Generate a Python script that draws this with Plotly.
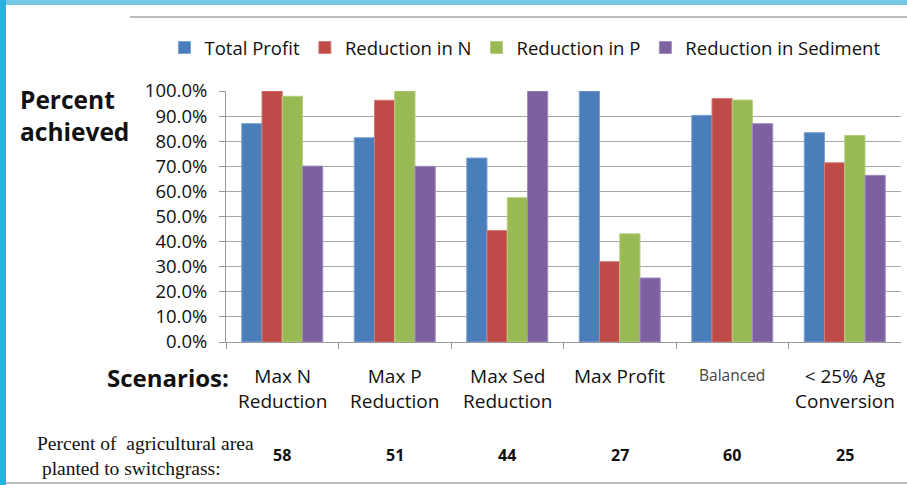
import plotly.graph_objects as go

W, H = 907, 485

categories = ["Max N<br>Reduction", "Max P<br>Reduction", "Max Sed<br>Reduction",
              "Max Profit", "Balanced", "< 25% Ag<br>Conversion"]
series_names = ["Total Profit", "Reduction in N", "Reduction in P", "Reduction in Sediment"]
total_profit = [0.870, 0.814, 0.733, 1.000, 0.903, 0.834]
reduction_n = [1.000, 0.963, 0.444, 0.320, 0.970, 0.714]
reduction_p = [0.979, 1.000, 0.575, 0.431, 0.964, 0.823]
reduction_sed = [0.701, 0.700, 1.000, 0.255, 0.870, 0.664]
switchgrass_pct = ["58", "51", "44", "27", "60", "25"]
y_ticks = [0.0, 0.1, 0.2, 0.3, 0.4, 0.5, 0.6, 0.7, 0.8, 0.9, 1.0]

colors = ["#4a7ebb", "#be4b48", "#98b954", "#7d60a0"]
edge_colors = ["#7ba2d2", "#d27c79", "#b5d07f", "#a28cbf"]
values = [total_profit, reduction_n, reduction_p, reduction_sed]

def px(x):
    return x / W

def py(y):
    return 1 - y / H

fig = go.Figure()
for name, vals, c, ec in zip(series_names, values, colors, edge_colors):
    fig.add_trace(go.Bar(x=categories, y=vals, name=name, marker_color=c,
                         marker_line=dict(color=ec, width=1)))

FONT = "'Open Sans', Lato, sans-serif"

fig.update_layout(
    width=W, height=H,
    margin=dict(l=0, r=0, t=0, b=0, autoexpand=False),
    paper_bgcolor="white", plot_bgcolor="white",
    barmode="group", bargap=0.28, bargroupgap=0,
    font=dict(family=FONT, color="#222"),
    showlegend=True,
    legend=dict(orientation="h", x=px(525), xanchor="center", y=py(48), yanchor="middle",
                font=dict(size=18.5, family=FONT, color="#111"), traceorder="normal",
                itemwidth=30, bgcolor="rgba(0,0,0,0)"),
    xaxis=dict(domain=[px(226), px(901)], showline=True, linecolor="#999", linewidth=1,
               ticks="outside", tickson="boundaries", ticklen=6, tickcolor="#999",
               showticklabels=False, showgrid=False, automargin=False),
    yaxis=dict(domain=[py(342), py(91)], range=[0, 1.0], tickvals=y_ticks,
               tickformat=".1%", showline=True, linecolor="#999", linewidth=1,
               ticks="outside", ticklen=6, tickcolor="#999", ticklabelstandoff=8,
               gridcolor="#a8a8a8", gridwidth=1, zeroline=False, automargin=False,
               tickfont=dict(size=18.5, family=FONT, color="#111")),
)

shapes = []
# slide decorations
shapes.append(dict(type="rect", xref="paper", yref="paper", x0=0, x1=1, y0=py(5), y1=1,
                   fillcolor="#74c8e2", line_width=0, layer="above"))
shapes.append(dict(type="rect", xref="paper", yref="paper", x0=0, x1=px(6), y0=0, y1=1,
                   fillcolor="#2ab0da", line_width=0, layer="above"))
shapes.append(dict(type="line", xref="paper", yref="paper", x0=px(130), x1=1,
                   y0=py(17), y1=py(17), line=dict(color="#bbbbbb", width=2)))
shapes.append(dict(type="line", xref="paper", yref="paper", x0=px(6), x1=1,
                   y0=py(483), y1=py(483), line=dict(color="#bbbbbb", width=2)))
fig.update_layout(shapes=shapes)

ann = []
ann.append(dict(text="<b>Percent<br>achieved</b>", xref="paper", yref="paper",
                x=px(18), y=py(81), xanchor="left", yanchor="top", align="left",
                showarrow=False, font=dict(size=24.5, family=FONT, color="#111")))
ann.append(dict(text="<b>Scenarios:</b>", xref="paper", yref="paper",
                x=px(231), y=py(377), xanchor="right", yanchor="middle",
                showarrow=False, font=dict(size=24, family=FONT, color="#111")))
for i, cat in enumerate(categories):
    if cat == "Balanced":
        ann.append(dict(text=cat, xref="x", yref="paper", x=cat, y=py(362),
                        xanchor="center", yanchor="top", showarrow=False,
                        font=dict(size=15.5, family=FONT, color="#444")))
    else:
        ann.append(dict(text=cat, xref="x", yref="paper", x=cat, y=py(361),
                        xanchor="center", yanchor="top", showarrow=False,
                        font=dict(size=19, family=FONT, color="#111")))
    ann.append(dict(text="<b>" + switchgrass_pct[i] + "</b>", xref="x", yref="paper", x=cat,
                    y=py(455), xanchor="center", yanchor="middle", showarrow=False,
                    font=dict(size=16, family=FONT, color="#111")))
ann.append(dict(text="Percent of  agricultural area<br> planted to switchgrass:", xref="paper",
                yref="paper", x=px(35), y=py(456), xanchor="left", yanchor="middle",
                align="left", showarrow=False,
                font=dict(size=19.5, family="'Liberation Serif', serif", color="#111")))
fig.update_layout(annotations=ann)

post = ("document.documentElement.style.margin='0';document.body.style.margin='0';"
        "document.documentElement.style.overflow='hidden';document.body.style.overflow='hidden';")
fig.write_html("out.html", config={"displayModeBar": False}, post_script=post)
